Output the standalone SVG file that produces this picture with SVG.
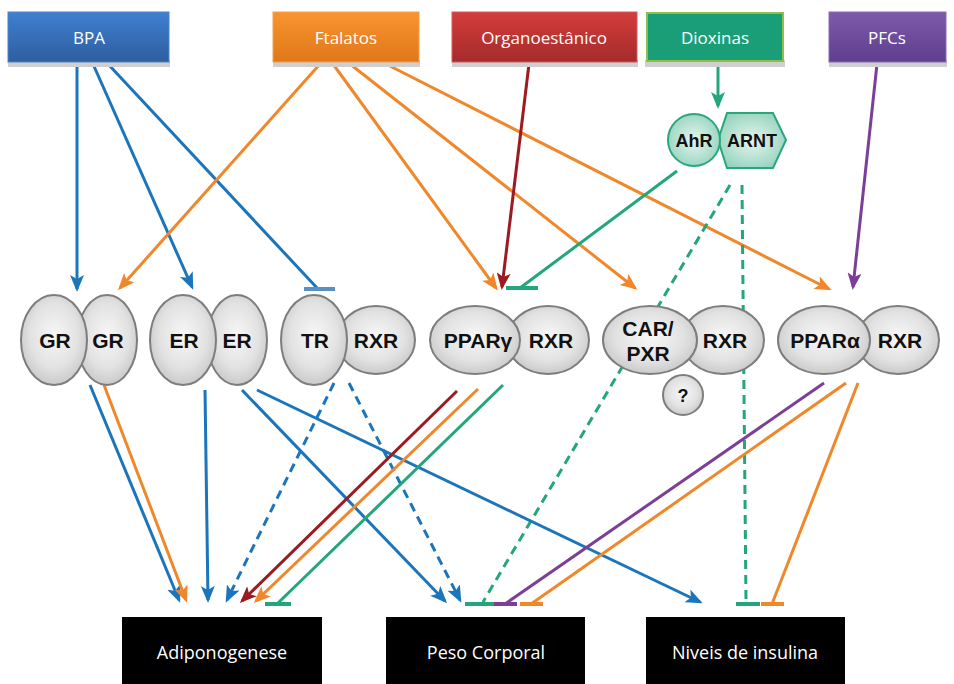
<svg xmlns="http://www.w3.org/2000/svg" width="954" height="684" viewBox="0 0 954 684">
<defs>
<style>
.src{font-family:"Open Sans","Liberation Sans",sans-serif;font-size:17px;fill:#fff;text-anchor:middle}
.out{font-family:"Open Sans","Liberation Sans",sans-serif;font-size:18px;fill:#fff;text-anchor:middle}
.lbl{font-family:"Liberation Sans","DejaVu Sans",sans-serif;font-weight:bold;font-size:21px;fill:#111;text-anchor:middle}
.sm{font-family:"Liberation Sans","DejaVu Sans",sans-serif;font-weight:bold;font-size:18px;fill:#111;text-anchor:middle}
.shadow{fill:#cfcfcf}
.node{fill:url(#gg);stroke:#7d7d7d;stroke-width:2}
.teal{fill:url(#tg);stroke:#2aa67e;stroke-width:2}
.c{fill:none;stroke-width:3}
.b{stroke:#1b75bb}.o{stroke:#f0882b}.r{stroke:#9b1b20}.g{stroke:#22a67a}.p{stroke:#7b3f98}
.d{stroke-dasharray:9 6}
.t{stroke-width:4}
</style>
<radialGradient id="gg" cx="0.5" cy="0.45" r="0.6"><stop offset="0" stop-color="#f7f7f7"/><stop offset="0.6" stop-color="#e2e2e2"/><stop offset="1" stop-color="#c4c4c4"/></radialGradient>
<radialGradient id="tg" cx="0.5" cy="0.5" r="0.6"><stop offset="0" stop-color="#e6f5ef"/><stop offset="1" stop-color="#8fd2ba"/></radialGradient>
<linearGradient id="gb" x1="0" y1="0" x2="0" y2="1"><stop offset="0" stop-color="#3f80d1"/><stop offset="1" stop-color="#2e5e9f"/></linearGradient>
<linearGradient id="go" x1="0" y1="0" x2="0" y2="1"><stop offset="0" stop-color="#f9942f"/><stop offset="1" stop-color="#e0781a"/></linearGradient>
<linearGradient id="gr" x1="0" y1="0" x2="0" y2="1"><stop offset="0" stop-color="#d43d3b"/><stop offset="1" stop-color="#a52b2b"/></linearGradient>
<linearGradient id="gp" x1="0" y1="0" x2="0" y2="1"><stop offset="0" stop-color="#7e5aab"/><stop offset="1" stop-color="#5f3e8d"/></linearGradient>
<marker id="ab" markerUnits="userSpaceOnUse" markerWidth="18" markerHeight="14" refX="14" refY="7" orient="auto"><path d="M0,0 L17,7 L0,14 L4,7 Z" fill="#1b75bb"/></marker>
<marker id="ao" markerUnits="userSpaceOnUse" markerWidth="18" markerHeight="14" refX="14" refY="7" orient="auto"><path d="M0,0 L17,7 L0,14 L4,7 Z" fill="#f0882b"/></marker>
<marker id="ar" markerUnits="userSpaceOnUse" markerWidth="18" markerHeight="14" refX="14" refY="7" orient="auto"><path d="M0,0 L17,7 L0,14 L4,7 Z" fill="#9b1b20"/></marker>
<marker id="ag" markerUnits="userSpaceOnUse" markerWidth="18" markerHeight="14" refX="14" refY="7" orient="auto"><path d="M0,0 L17,7 L0,14 L4,7 Z" fill="#22a67a"/></marker>
<marker id="ap" markerUnits="userSpaceOnUse" markerWidth="18" markerHeight="14" refX="14" refY="7" orient="auto"><path d="M0,0 L17,7 L0,14 L4,7 Z" fill="#7b3f98"/></marker>
</defs>
<rect width="954" height="684" fill="#fff"/>

<g id="connectors">
<line class="c b" x1="77" y1="64" x2="77" y2="289" marker-end="url(#ab)"/>
<line class="c b" x1="93" y1="64" x2="192" y2="287" marker-end="url(#ab)"/>
<line class="c b" x1="108" y1="64" x2="318" y2="289"/>
<line class="c t" stroke="#5b8fc0" x1="304" y1="289" x2="335" y2="289"/>
<line class="c o" x1="320" y1="64" x2="120" y2="288" marker-end="url(#ao)"/>
<line class="c o" x1="333" y1="64" x2="496" y2="288" marker-end="url(#ao)"/>
<line class="c o" x1="350" y1="64" x2="635" y2="288" marker-end="url(#ao)"/>
<line class="c o" x1="386" y1="64" x2="829" y2="289" marker-end="url(#ao)"/>
<line class="c r" x1="529" y1="64" x2="502" y2="287" marker-end="url(#ar)"/>
<line class="c g" x1="718" y1="64" x2="718" y2="106" marker-end="url(#ag)"/>
<line class="c g" x1="677" y1="171" x2="520" y2="288"/>
<line class="c g t" x1="506" y1="288" x2="538" y2="288"/>
<line class="c p" x1="877" y1="64" x2="853" y2="287" marker-end="url(#ap)"/>
<line class="c g d" x1="730" y1="185" x2="483" y2="602"/>
<line class="c g d" x1="742" y1="185" x2="746" y2="602"/>

<line class="c b" x1="90" y1="385" x2="179" y2="600" marker-end="url(#ab)"/>
<line class="c o" x1="104" y1="385" x2="186" y2="600" marker-end="url(#ao)"/>
<line class="c b" x1="205" y1="390" x2="208" y2="600" marker-end="url(#ab)"/>
<line class="c b" x1="242" y1="390" x2="445" y2="601" marker-end="url(#ab)"/>
<line class="c b" x1="257" y1="390" x2="700" y2="602" marker-end="url(#ab)"/>
<line class="c b d" x1="334" y1="383" x2="227" y2="600" marker-end="url(#ab)"/>
<line class="c b d" x1="349" y1="383" x2="460" y2="600" marker-end="url(#ab)"/>
<line class="c r" x1="457" y1="391" x2="242" y2="601" marker-end="url(#ar)"/>
<line class="c o" x1="478" y1="389" x2="256" y2="601" marker-end="url(#ao)"/>
<line class="c g" x1="503" y1="385" x2="278" y2="603"/>
<line class="c p" x1="824" y1="383" x2="505" y2="604"/>
<line class="c o" x1="846" y1="383" x2="531" y2="604"/>
<line class="c o" x1="858" y1="383" x2="772" y2="604"/>
<line class="c g t" x1="265" y1="604" x2="291" y2="604"/>
<line class="c g t" x1="465" y1="604" x2="494" y2="604"/>
<line class="c p t" x1="494" y1="604" x2="517" y2="604"/>
<line class="c o t" x1="520" y1="604" x2="543" y2="604"/>
<line class="c g t" x1="736" y1="604" x2="760" y2="604"/>
<line class="c o t" x1="761" y1="604" x2="784" y2="604"/>
</g>

<g id="bpa"><rect class="shadow" x="8" y="60" width="162" height="7"/><rect x="8" y="12" width="161" height="50" fill="url(#gb)" stroke="#4d86c8" stroke-width="1"/><text class="src" x="89" y="44">BPA</text></g>
<g id="ftalatos"><rect class="shadow" x="273" y="60" width="147" height="7"/><rect x="273" y="12" width="146" height="50" fill="url(#go)" stroke="#f3a050" stroke-width="1"/><text class="src" x="346" y="44">Ftalatos</text></g>
<g id="organoestanico"><rect class="shadow" x="452" y="60" width="186" height="7"/><rect x="452" y="12" width="185" height="50" fill="url(#gr)" stroke="#d65a5a" stroke-width="1"/><text class="src" x="544" y="44">Organoestânico</text></g>
<g id="dioxinas"><rect class="shadow" x="645" y="60" width="140" height="7"/><rect x="647" y="13" width="136" height="48" fill="#1a9e78" stroke="#8dc04b" stroke-width="2"/><text class="src" x="715" y="44">Dioxinas</text></g>
<g id="pfcs"><rect class="shadow" x="829" y="60" width="118" height="7"/><rect x="829" y="12" width="117" height="50" fill="url(#gp)" stroke="#8a6ab5" stroke-width="1"/><text class="src" x="887" y="44">PFCs</text></g>

<g id="ahr-arnt">
<polygon class="teal" points="718,140 727,113 773,113 786,140 773,168 727,168"/>
<circle class="teal" cx="694" cy="140" r="26"/>
<text class="sm" x="694" y="147">AhR</text>
<text class="sm" x="752" y="147">ARNT</text>
</g>

<g id="gr-gr">
<ellipse class="node" cx="107" cy="340" rx="30" ry="45"/>
<ellipse class="node" cx="54" cy="340" rx="33" ry="45"/>
<text class="lbl" x="55" y="348">GR</text><text class="lbl" x="108" y="348">GR</text>
</g>
<g id="er-er">
<ellipse class="node" cx="237" cy="340" rx="30" ry="45"/>
<ellipse class="node" cx="183" cy="340" rx="33" ry="45"/>
<text class="lbl" x="184" y="348">ER</text><text class="lbl" x="237" y="348">ER</text>
</g>
<g id="tr-rxr">
<ellipse class="node" cx="376" cy="340" rx="39" ry="34"/>
<ellipse class="node" cx="314" cy="340" rx="33" ry="45"/>
<text class="lbl" x="315" y="348">TR</text><text class="lbl" x="376" y="348">RXR</text>
</g>
<g id="ppargamma-rxr">
<ellipse class="node" cx="548" cy="340" rx="41" ry="34"/>
<ellipse class="node" cx="475" cy="340" rx="45" ry="34"/>
<text class="lbl" x="478" y="348">PPARγ</text><text class="lbl" x="551" y="348">RXR</text>
</g>
<g id="carpxr-rxr">
<ellipse class="node" cx="723" cy="340" rx="41" ry="34"/>
<ellipse class="node" cx="650" cy="340" rx="47" ry="34"/>
<text class="lbl" x="648" y="336">CAR/</text><text class="lbl" x="648" y="361">PXR</text>
<text class="lbl" x="725" y="348">RXR</text>
</g>
<g id="unknown">
<circle class="node" cx="683" cy="395" r="20"/>
<text class="sm" x="683" y="402">?</text>
</g>
<g id="pparalpha-rxr">
<ellipse class="node" cx="898" cy="340" rx="41" ry="34"/>
<ellipse class="node" cx="824" cy="340" rx="46" ry="34"/>
<text class="lbl" x="825" y="348">PPARα</text><text class="lbl" x="900" y="348">RXR</text>
</g>

<g id="adiponogenese"><rect x="122" y="617" width="200" height="67" fill="#000"/><text class="out" x="222" y="659">Adiponogenese</text></g>
<g id="peso-corporal"><rect x="386" y="617" width="199" height="67" fill="#000"/><text class="out" x="486" y="659">Peso Corporal</text></g>
<g id="niveis-insulina"><rect x="646" y="617" width="199" height="67" fill="#000"/><text class="out" x="745" y="659">Niveis de insulina</text></g>
</svg>
